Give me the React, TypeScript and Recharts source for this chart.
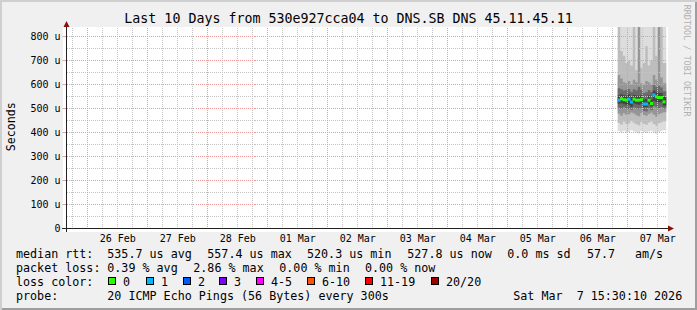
import React from 'react'
import { ComposedChart, Area, Scatter, XAxis, YAxis, ReferenceLine } from 'recharts'

// x is counted in hours from the left edge of the graph (Wed 25 Feb 15:30) up to Sat 7 Mar 15:30
const DAY_LABELS = ['26 Feb', '27 Feb', '28 Feb', '01 Mar', '02 Mar', '03 Mar', '04 Mar', '05 Mar', '06 Mar', '07 Mar']
const DAY_TICKS = [20.5, 44.5, 68.5, 92.5, 116.5, 140.5, 164.5, 188.5, 212.5, 236.5]
const MIDNIGHTS = [8.5, 32.5, 56.5, 80.5, 104.5, 128.5, 152.5, 176.5, 200.5, 224.5]
const Y_TICKS = [0, 100, 200, 300, 400, 500, 600, 700, 800]

// one bucket per hour, data only exists for the last ~19 hours
const BUCKET_HOURS = [220.5, 221.5, 222.5, 223.5, 224.5, 225.5, 226.5, 227.5, 228.5, 229.5, 230.5, 231.5, 232.5, 233.5, 234.5, 235.5, 236.5, 237.5, 238.5]
const END_HOUR = 240

// median rtt in microseconds, lost pings out of 20
const MEDIAN = [535, 541, 537, 535, 539, 527, 539, 535, 535, 537, 519, 519, 535, 521, 557, 549, 546, 546, 528]
const LOSS = [1, 0, 0, 0, 1, 1, 0, 0, 0, 0, 1, 1, 0, 0, 1, 0, 0, 0, 0]

// smoke bands, outermost first (sorted ping pairs)
const BAND1_LO = [405, 400, 408, 398, 402, 410, 404, 400, 396, 406, 402, 398, 404, 408, 400, 395, 402, 406, 410]
const BAND1_HI = [910, 900, 920, 905, 900, 915, 900, 910, 925, 900, 905, 910, 900, 915, 920, 900, 930, 905, 900]
const BAND2_LO = [440, 432, 445, 436, 438, 448, 441, 435, 430, 444, 437, 433, 442, 446, 436, 428, 439, 443, 447]
const BAND2_HI = [900, 740, 720, 690, 700, 680, 900, 660, 710, 670, 690, 760, 680, 700, 900, 720, 760, 900, 690]
const BAND3_LO = [478, 470, 480, 474, 476, 484, 479, 472, 468, 481, 473, 470, 477, 483, 474, 466, 476, 480, 485]
const BAND3_HI = [640, 625, 610, 605, 615, 600, 620, 610, 900, 605, 600, 615, 610, 600, 640, 620, 900, 630, 605]
const BAND4_LO = [503, 498, 505, 500, 499, 495, 504, 500, 497, 503, 490, 488, 501, 494, 510, 505, 502, 506, 499]
const BAND4_HI = [585, 580, 575, 578, 582, 570, 580, 576, 590, 578, 565, 568, 577, 570, 598, 590, 595, 588, 572]
const BAND5_LO = [520, 522, 518, 516, 515, 508, 522, 518, 516, 520, 505, 506, 518, 509, 532, 527, 526, 526, 512]
const BAND5_HI = [555, 560, 556, 553, 560, 548, 558, 554, 553, 556, 538, 540, 554, 538, 575, 568, 566, 565, 548]

const BANDS = [
  { lo: BAND1_LO, hi: BAND1_HI, color: '#dddddd' },
  { lo: BAND2_LO, hi: BAND2_HI, color: '#bdbdbd' },
  { lo: BAND3_LO, hi: BAND3_HI, color: '#969696' },
  { lo: BAND4_LO, hi: BAND4_HI, color: '#6b6b6b' },
  { lo: BAND5_LO, hi: BAND5_HI, color: '#444444' },
]

const LOSS_LABELS = ['0', '1', '2', '3', '4-5', '6-10', '11-19', '20/20']
const LOSS_COLORS = ['#26ff00', '#00b8ff', '#0059ff', '#7e00ff', '#ff00fe', '#ff5500', '#ff0000', '#a10000']
const LOSS_BOX_X = [108, 146, 183, 219, 256, 307, 365, 431]

// step table: last bucket repeated at the end so the step runs to the right edge
const SMOKE = [...BUCKET_HOURS, END_HOUR].map((t, i) => {
  const k = Math.min(i, BUCKET_HOURS.length - 1)
  const row: any = { t }
  BANDS.forEach((b, j) => {
    row['b' + j] = [b.lo[k], b.hi[k]]
  })
  return row
})

const MEDIAN_POINTS = BUCKET_HOURS.map((t, i) => ({ t: t + 0.5, median: MEDIAN[i], loss: LOSS[i] }))

// grid
const MINOR_X: number[] = []
for (let h = 2.5; h < 240; h += 6) if (!MIDNIGHTS.includes(h)) MINOR_X.push(h)
const MINOR_Y = [50, 150, 250, 350, 450, 550, 650, 750]

const MONO = '"DejaVu Sans Mono", monospace'
const GRID = '#c4c4c4'
const MGRID = '#e89a9a'

const MedianMark = (props: any) => {
  const { cx, cy, payload } = props
  return <rect x={cx - 1.5} y={cy - 1.5} width={3} height={3} fill={LOSS_COLORS[payload.loss]} />
}

export default function App() {
  return (
    <div
      style={{
        position: 'relative',
        width: 697,
        height: 310,
        background: '#f0f0f0',
        boxShadow: 'inset 2px 2px 0 #cfcfcf, inset -2px -2px 0 #9e9e9e',
        overflow: 'hidden',
      }}
    >
      <style>{'body{margin:0}'}</style>
      {/* canvas */}
      <div style={{ position: 'absolute', left: 63, top: 27, width: 605, height: 205, background: '#fff' }} />

      <div style={{ position: 'absolute', left: 0, top: 0 }}>
        <ComposedChart width={697} height={310} data={SMOKE} margin={{ top: 27, right: 30.5, bottom: 0, left: 0 }}>
          <XAxis
            type="number"
            dataKey="t"
            domain={[0, 240]}
            allowDataOverflow
            ticks={DAY_TICKS}
            interval={0}
            tickFormatter={(v: number) => DAY_LABELS[DAY_TICKS.indexOf(v)]}
            height={81.5}
            tickLine={false}
            tickSize={4}
            tickMargin={2}
            axisLine={{ stroke: '#212121' }}
            tick={{ fontFamily: MONO, fontSize: 10, fill: '#000' }}
          />
          <YAxis
            type="number"
            domain={[0, 840]}
            allowDataOverflow
            ticks={Y_TICKS}
            interval={0}
            tickFormatter={(v: number) => (v === 0 ? '0' : `${v} u`)}
            width={66.5}
            tickSize={4}
            tickMargin={2}
            axisLine={{ stroke: '#212121' }}
            tickLine={{ stroke: MGRID }}
            tick={{ fontFamily: MONO, fontSize: 10, fill: '#000' }}
          />

          {BANDS.map((b, j) => (
            <Area
              key={'band' + j}
              dataKey={'b' + j}
              type="stepAfter"
              stroke="none"
              fill={b.color}
              fillOpacity={1}
              dot={false}
              activeDot={false}
              isAnimationActive={false}
            />
          ))}

          {MINOR_Y.map((y) => (
            <ReferenceLine key={'my' + y} y={y} stroke={GRID} strokeDasharray="1 1" shapeRendering="crispEdges" />
          ))}
          {MINOR_X.map((x) => (
            <ReferenceLine key={'mx' + x} x={x} stroke={GRID} strokeDasharray="1 1" shapeRendering="crispEdges" />
          ))}
          {Y_TICKS.filter((y) => y > 0).map((y) => (
            <ReferenceLine key={'My' + y} y={y} stroke={MGRID} strokeDasharray="1 1" shapeRendering="crispEdges" />
          ))}
          {MIDNIGHTS.map((x) => (
            <ReferenceLine key={'Mx' + x} x={x} stroke={MGRID} strokeDasharray="1 1" shapeRendering="crispEdges" />
          ))}

          <Scatter data={MEDIAN_POINTS} dataKey="median" shape={MedianMark} isAnimationActive={false} />
        </ComposedChart>
      </div>

      <svg width={697} height={310} style={{ position: 'absolute', left: 0, top: 0, pointerEvents: 'none' }}>
        {/* axis ends and arrows */}
        <line x1={66.5} y1={24} x2={66.5} y2={232} stroke="#212121" />
        <line x1={62} y1={228.5} x2={669} y2={228.5} stroke="#212121" />
        <polygon points="63.5,27 69.5,27 66.5,21" fill="#8b1010" />
        <polygon points="668,225.5 668,231.5 674,228.5" fill="#8b1010" />

        <text x={348.5} y={22.7} textAnchor="middle" fontFamily={MONO} fontSize={13.3} fill="#000">
          Last 10 Days from 530e927cca04 to DNS.SB DNS 45.11.45.11
        </text>
        <text transform="translate(15,126.7) rotate(-90)" textAnchor="middle" fontFamily={MONO} fontSize={11.6} fill="#000">
          Seconds
        </text>
        <text transform="translate(684.2,4.7) rotate(90)" fontFamily={MONO} fontSize={8.45} fill="#b0b0b0" xmlSpace="preserve">
          RRDTOOL / TOBI OETIKER
        </text>

        <g fontFamily={MONO} fontSize={11.7} fill="#000">
          <text x={16} y={258.3}>median rtt:</text>
          <text x={107.3} y={258.3}>535.7 us avg</text>
          <text x={207.3} y={258.3}>557.4 us max</text>
          <text x={307} y={258.3}>520.3 us min</text>
          <text x={407.3} y={258.3}>527.8 us now</text>
          <text x={507.3} y={258.3}>0.0 ms sd</text>
          <text x={587} y={258.3}>57.7</text>
          <text x={635} y={258.3}>am/s</text>

          <text x={16} y={272.3}>packet loss:</text>
          <text x={107.3} y={272.3}>0.39 % avg</text>
          <text x={193.3} y={272.3}>2.86 % max</text>
          <text x={279.3} y={272.3}>0.00 % min</text>
          <text x={365} y={272.3}>0.00 % now</text>

          <text x={16} y={286.3}>loss color:</text>
          {LOSS_LABELS.map((l, i) => (
            <g key={l}>
              <rect x={LOSS_BOX_X[i] + 0.5} y={277.5} width={7} height={7} fill={LOSS_COLORS[i]} stroke="#000" />
              <text x={LOSS_BOX_X[i] + 15} y={286.3}>{l}</text>
            </g>
          ))}

          <text x={16} y={300.3}>probe:</text>
          <text x={107.3} y={300.3}>20 ICMP Echo Pings (56 Bytes) every 300s</text>
          <text x={513.3} y={300.3} xmlSpace="preserve">Sat Mar  7 15:30:10 2026</text>
        </g>
      </svg>
    </div>
  )
}
